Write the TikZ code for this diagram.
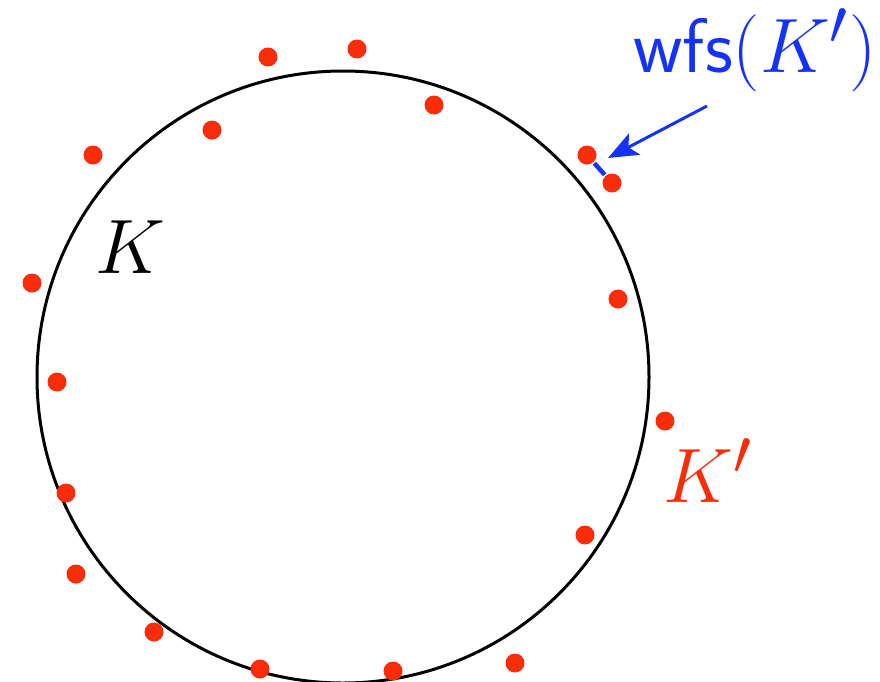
\documentclass[tikz,border=0pt]{standalone}
\usepackage{amsmath}
\usepackage{graphicx}
\usepackage{xcolor}
\usepackage{tikz}
\usetikzlibrary{arrows.meta, positioning}

\definecolor{dotred}{RGB}{250,45,10}
\definecolor{wfsblue}{RGB}{20,50,250}
\newcommand{\bigtext}[1]{\scalebox{3.1}{\Huge #1}}

\begin{document}
\begin{tikzpicture}[x=1pt, y=-1pt,
      pt/.style={circle, fill=dotred, inner sep=0pt, minimum size=19pt},
      lab/.style={inner sep=0pt, anchor=base west},
      line width=3pt]
    \useasboundingbox (0,0) rectangle (880,681);
    % the set K
    \draw (343,377) circle[radius=306];
    \node[lab] (klab) at (94,273) {\bigtext{$K$}};
    % the sample K'
    \foreach \x/\y [count=\i] in {268/57, 357/49, 434/105, 212/130, 93/155,
        587/155, 612/183, 32/283, 618/299, 57/382, 665/421, 66/493,
        585/535, 76/574, 154/632, 260/669, 393/671, 515/663}
      \node[pt] (p\i) at (\x,\y) {};
    \node[lab, text=dotred] (kplab) at (662,502) {\bigtext{$K'$}};
    % weak feature size
    \draw[wfsblue, line width=4.5pt] (p6) -- (p7);
    \node[lab, text=wfsblue] (wlab) at (632,72)
      {\bigtext{\textsf{wfs}$(K')$}};
    \coordinate (tail) at (707,106);
    \coordinate (tip) at (608,158);
    \draw[wfsblue, -{Stealth[length=30pt, width=24pt, inset=7pt]}] (tail) -- (tip);
  \end{tikzpicture}
\end{document}
